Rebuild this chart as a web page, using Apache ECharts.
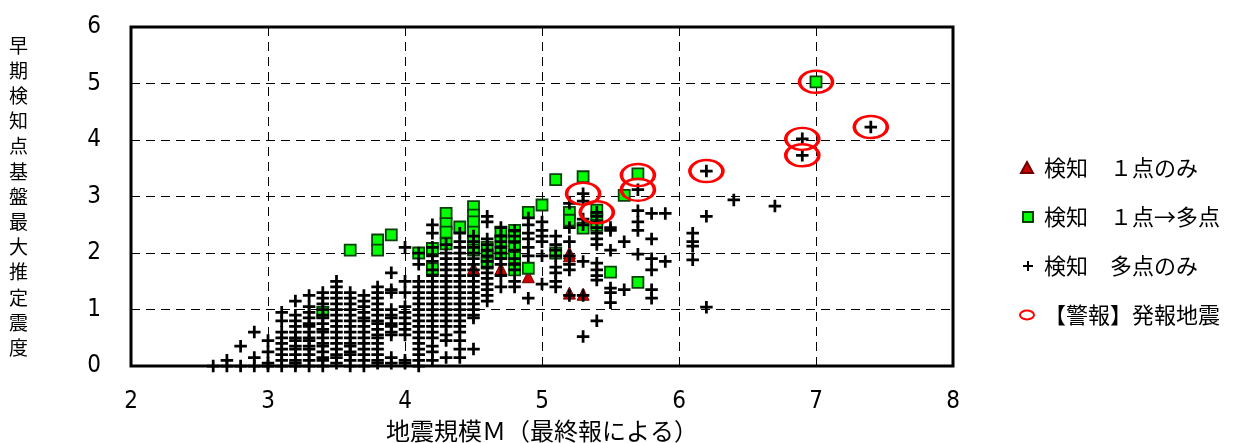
<!DOCTYPE html>
<html>
<head>
<meta charset="utf-8">
<script src="https://cdn.jsdelivr.net/npm/echarts@6/dist/echarts.min.js"></script>
<style>
  html, body { margin: 0; padding: 0; background: #fff; }
  #quake-chart { width: 1238px; height: 443px; }
</style>
</head>
<body>
<div id="quake-chart"></div>
<script>
// 検知 1点のみ  [M, 震度]
const onePoint = [
  [4.5, 1.73], [4.7, 1.72], [4.8, 2.22], [4.9, 1.58],
  [5.2, 2.0], [5.2, 1.95], [5.2, 1.29], [5.3, 1.27]
];

// 検知 1点→多点
const onePointToMulti = [
  [3.4, 0.95], [3.6, 2.05], [3.8, 2.23], [3.8, 2.05], [3.9, 2.32],
  [4.1, 2.0], [4.2, 2.08], [4.2, 1.72],
  [4.3, 2.7], [4.3, 2.52], [4.3, 2.37], [4.3, 2.16], [4.4, 2.46],
  [4.5, 2.82], [4.5, 2.67], [4.5, 2.55], [4.5, 2.37], [4.5, 2.2], [4.5, 2.05],
  [4.6, 2.1], [4.6, 1.93], [4.6, 1.82],
  [4.7, 2.37], [4.7, 2.22], [4.7, 2.0],
  [4.8, 2.4], [4.8, 2.28], [4.8, 2.08], [4.8, 1.92], [4.8, 1.7],
  [4.9, 2.72], [4.9, 1.73], [5.0, 2.85],
  [5.1, 3.3], [5.1, 2.0], [5.2, 2.72], [5.2, 2.58],
  [5.3, 3.35], [5.3, 2.44], [5.4, 2.76], [5.4, 2.6], [5.4, 2.49],
  [5.5, 1.66], [5.6, 3.02], [5.7, 3.4], [5.7, 1.48], [7.0, 5.03]
];

// 検知 多点のみ : M ごとの震度
const multiM = [2.6, 2.7, 2.8, 2.9, 3.0, 3.1, 3.2, 3.3, 3.4, 3.5, 3.6, 3.7, 3.8, 3.9,
  4.0, 4.1, 4.2, 4.3, 4.4, 4.5, 4.6, 4.7, 4.8, 4.9, 5.0, 5.1, 5.2, 5.3, 5.4, 5.5,
  5.6, 5.7, 5.8, 5.9, 6.1, 6.2, 6.4, 6.7, 6.9, 7.4];
const multiI = [
  [0],
  [0.1, 0],
  [0.35, 0],
  [0.6, 0.15, 0],
  [0.45, 0.25, 0.05, 0],
  [0.95, 0.8, 0.6, 0.5, 0.4, 0.3, 0.2, 0.1, 0],
  [1.15, 0.9, 0.8, 0.7, 0.6, 0.5, 0.45, 0.35, 0.3, 0.2, 0.1, 0.05, 0],
  [1.25, 1.05, 0.95, 0.85, 0.75, 0.7, 0.6, 0.5, 0.45, 0.35, 0.3, 0.2, 0.1, 0],
  [1.3, 1.2, 1.1, 1.0, 0.9, 0.85, 0.75, 0.65, 0.6, 0.5, 0.4, 0.35, 0.25, 0.15, 0.1, 0],
  [1.5, 1.4, 1.3, 1.2, 1.1, 1.0, 0.9, 0.8, 0.7, 0.6, 0.5, 0.4, 0.3, 0.2, 0.15, 0.05],
  [1.3, 1.2, 1.1, 1.0, 0.9, 0.8, 0.7, 0.6, 0.5, 0.4, 0.35, 0.25, 0.2, 0.1, 0],
  [1.25, 1.15, 1.05, 0.95, 0.85, 0.8, 0.7, 0.6, 0.5, 0.4, 0.3, 0.2, 0.1, 0],
  [1.4, 1.3, 1.2, 1.1, 1.0, 0.9, 0.8, 0.75, 0.65, 0.55, 0.5, 0.4, 0.3, 0.2, 0.1, 0.05],
  [1.65, 1.35, 1.3, 1.0, 0.9, 0.85, 0.75, 0.7, 0.6, 0.55, 0.15, 0.05],
  [2.1, 1.5, 1.3, 1.05, 0.95, 0.85, 0.75, 0.65, 0.55, 0.1, 0.05],
  [2.0, 1.8, 1.5, 1.4, 1.3, 1.2, 1.1, 1.0, 0.9, 0.8, 0.7, 0.6, 0.5, 0.4, 0.3, 0.2, 0.1, 0],
  [2.5, 2.35, 2.1, 1.95, 1.85, 1.7, 1.6, 1.5, 1.4, 1.3, 1.2, 1.1, 1.0, 0.9, 0.8, 0.7, 0.6, 0.5, 0.35, 0.25, 0.1],
  [2.15, 2.0, 1.9, 1.8, 1.7, 1.6, 1.5, 1.4, 1.3, 1.2, 1.1, 1.0, 0.9, 0.8, 0.7, 0.55, 0.45, 0.15],
  [2.35, 2.2, 2.1, 2.0, 1.9, 1.8, 1.7, 1.6, 1.5, 1.4, 1.3, 1.2, 1.1, 1.0, 0.9, 0.8, 0.7, 0.6, 0.45, 0.3, 0.15],
  [2.3, 2.2, 2.1, 2.0, 1.9, 1.8, 1.7, 1.6, 1.5, 1.4, 1.3, 1.2, 1.1, 1.0, 0.9, 0.85, 0.3],
  [2.65, 2.55, 2.25, 2.15, 2.05, 1.95, 1.85, 1.75, 1.65, 1.55, 1.45, 1.35, 1.25, 1.15],
  [2.45, 2.3, 2.2, 2.1, 2.0, 1.9, 1.8, 1.6, 1.4],
  [2.4, 2.3, 2.2, 2.05, 1.9, 1.8, 1.7, 1.5, 1.4],
  [2.62, 2.5, 2.35, 2.25, 2.1, 1.95, 1.2],
  [2.55, 2.4, 2.3, 2.2, 1.95, 1.45],
  [2.3, 2.15, 2.05, 1.95, 1.75, 1.65, 1.5, 1.4],
  [2.88, 2.45, 2.2, 1.95, 1.8, 1.7, 1.25],
  [3.05, 2.92, 2.6, 2.5, 1.85, 1.25, 0.52],
  [2.72, 2.65, 2.55, 2.45, 2.35, 2.25, 2.15, 1.82, 1.7, 1.6, 1.52, 0.8],
  [2.45, 2.4, 2.05, 1.38, 1.3, 1.12],
  [2.2, 1.35],
  [3.12, 2.75, 2.55, 2.4, 1.98],
  [2.7, 2.25, 1.9, 1.7, 1.35, 1.2],
  [2.7, 1.85],
  [2.35, 2.2, 2.12, 1.88],
  [3.45, 2.65, 1.04],
  [2.94],
  [2.83],
  [4.02, 3.73],
  [4.23]
];

// 【警報】発報地震
const alarm = [
  [5.3, 3.05], [5.4, 2.72], [5.7, 3.38], [5.7, 3.12], [6.2, 3.45],
  [6.9, 4.02], [6.9, 3.73], [7.0, 5.03], [7.4, 4.23]
];

const xTicks = [2, 3, 4, 5, 6, 7, 8];
const yTicks = [0, 1, 2, 3, 4, 5, 6];

const multiOnly = multiM.flatMap((m, k) => multiI[k].map(v => [m, v]));

const plusPath = 'path://M3.9,0H6.1V3.9H10V6.1H6.1V10H3.9V6.1H0V3.9H3.9Z';
const jpFont = '"Noto Sans CJK JP", sans-serif';
const numFont = '"Liberation Sans Narrow", "DejaVu Sans Condensed", "Liberation Sans", sans-serif';

const chart = echarts.init(document.getElementById('quake-chart'));

const option = {
  animation: false,
  grid: {
    left: 131, right: 285, top: 27, bottom: 77,
    outerBoundsMode: 'none',
    containLabel: false,
    show: true,
    borderColor: '#000',
    borderWidth: 3
  },
  legend: {
    orient: 'vertical',
    left: 1013,
    top: 152,
    itemWidth: 20,
    itemHeight: 12,
    itemGap: 27,
    textStyle: { fontFamily: jpFont, fontSize: 22, color: '#000', lineHeight: 22 },
    data: [
      { name: '検知　１点のみ', icon: 'path://M0,0M20,12M2,11L8,0L14,11Z' },
      { name: '検知　１点→多点', icon: 'path://M0,0M20,12M4,1H14V11H4Z' },
      { name: '検知　多点のみ', icon: 'path://M0,0M20,12M8,1H10V5H14V7H10V11H8V7H4V5H8Z' },
      { name: '【警報】発報地震', icon: 'path://M0,0M20,12M1,6A7,4.5 0 1,1 15,6A7,4.5 0 1,1 1,6Z' }
    ]
  },
  xAxis: {
    type: 'value',
    min: xTicks[0],
    max: xTicks[xTicks.length - 1],
    interval: 1,
    name: '地震規模Ｍ（最終報による）',
    nameLocation: 'middle',
    nameGap: 53,
    nameTextStyle: { fontFamily: jpFont, fontSize: 24, color: '#000' },
    axisLine: { show: false },
    axisTick: { show: false },
    axisLabel: { margin: 24, fontFamily: numFont, fontSize: 24, color: '#000' },
    splitLine: { show: true, lineStyle: { color: '#000', width: 1, type: [9, 6] } }
  },
  yAxis: {
    type: 'value',
    min: yTicks[0],
    max: yTicks[yTicks.length - 1],
    interval: 1,
    name: '早\n期\n検\n知\n点\n基\n盤\n最\n大\n推\n定\n震\n度',
    nameLocation: 'middle',
    nameRotate: 0,
    nameGap: 103,
    nameTextStyle: { fontFamily: jpFont, fontSize: 19, color: '#000', lineHeight: 25.2 },
    axisLine: { show: false },
    axisTick: { show: false },
    axisLabel: { margin: 30, fontFamily: numFont, fontSize: 24, color: '#000' },
    splitLine: { show: true, lineStyle: { color: '#000', width: 1, type: [9, 6] } }
  },
  series: [
    {
      name: '検知　１点のみ',
      type: 'scatter',
      clip: false,
      symbol: 'triangle',
      symbolSize: 12,
      itemStyle: { color: '#cc0000', borderColor: '#700000', borderWidth: 1, opacity: 1 },
      data: onePoint
    },
    {
      name: '検知　１点→多点',
      type: 'scatter',
      clip: false,
      symbol: 'rect',
      symbolSize: 11,
      itemStyle: { color: '#00ff00', borderColor: '#0a400a', borderWidth: 1.8, opacity: 1 },
      data: onePointToMulti
    },
    {
      name: '検知　多点のみ',
      type: 'scatter',
      clip: false,
      symbol: plusPath,
      symbolSize: 12.5,
      itemStyle: { color: '#000', opacity: 1 },
      data: multiOnly
    },
    {
      name: '【警報】発報地震',
      type: 'scatter',
      clip: false,
      symbol: 'circle',
      symbolSize: [33, 22],
      itemStyle: { color: 'rgba(0,0,0,0)', borderColor: '#ff0000', borderWidth: 3, opacity: 1 },
      data: alarm
    }
  ]
};

option && chart.setOption(option);
</script>
</body>
</html>
